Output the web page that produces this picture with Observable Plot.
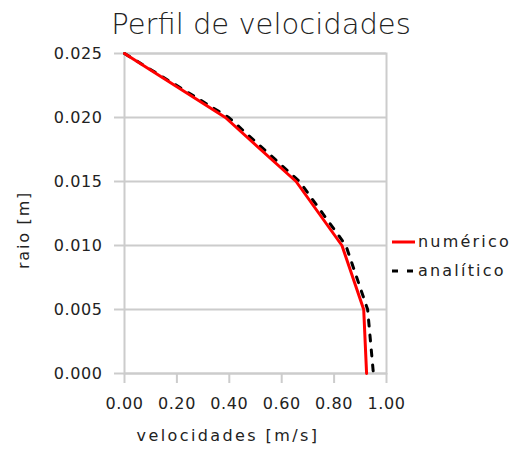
<!DOCTYPE html>
<html><head><meta charset="utf-8">
<script src="https://cdn.jsdelivr.net/npm/d3@7"></script>
<script src="https://cdn.jsdelivr.net/npm/@observablehq/plot@0.6"></script>
<style>
body{margin:0;background:#fff;font-family:"DejaVu Sans",sans-serif;color:#222;}
#wrap{position:relative;width:517px;height:454px;overflow:hidden;}
#chart{position:absolute;left:0;top:0;}
.lbl{position:absolute;white-space:nowrap;line-height:1;}
#title{left:0;width:522px;text-align:center;top:10px;font-size:29px;font-weight:300;}
#xlab{left:0;width:456px;text-align:center;top:428px;font-size:16px;letter-spacing:2.4px;}
#ylab{left:24px;top:230px;font-size:16px;letter-spacing:1.8px;transform:translate(-50%,-50%) rotate(-90deg);}
#legend{position:absolute;left:392px;top:227px;font-size:16px;letter-spacing:2.2px;}
.row{display:flex;align-items:center;height:29px;}
.row svg{margin-right:3px;}
</style>
</head><body>
<div id="wrap">
<div id="chart"></div>
<div id="title" class="lbl">Perfil de velocidades</div>
<div id="xlab" class="lbl">velocidades [m/s]</div>
<div id="ylab" class="lbl">raio [m]</div>
<div id="legend"></div>
</div>
<script>
const raio = [0.025, 0.020, 0.015, 0.010, 0.005, 0.000];
const numerico = [0, 0.385, 0.655, 0.83, 0.913, 0.924];
const analitico = [0, 0.398, 0.668, 0.845, 0.928, 0.95];
const xTicks = [0, 0.2, 0.4, 0.6, 0.8, 1.0];
const yTicks = [0, 0.005, 0.010, 0.015, 0.020, 0.025];
const series = ["numérico", "analítico"];
const colors = ["#ff0000", "#000000"];
const dashes = [null, "6,9"];

const num = raio.map((r, i) => ({r, v: numerico[i]}));
const ana = raio.map((r, i) => ({r, v: analitico[i]}));

const grid = "#cccccc";
const chart = Plot.plot({
  width: 517, height: 454,
  marginTop: 53, marginBottom: 81, marginLeft: 124, marginRight: 131,
  style: {fontFamily: "DejaVu Sans", fontSize: "16px", color: "#222", background: "#fff", letterSpacing: "0.6px"},
  x: {domain: [0, 1]},
  y: {domain: [0, 0.025]},
  marks: [
    Plot.gridY(yTicks, {stroke: grid, strokeOpacity: 1, strokeWidth: 2}),
    Plot.frame({stroke: grid, strokeWidth: 2}),
    Plot.axisX(xTicks, {tickSize: 10, text: null, stroke: grid, strokeWidth: 2, label: null}),
    Plot.axisX(xTicks, {tickSize: 0, tickPadding: 24, tickFormat: d3.format(".2f"), label: null, fill: "#222"}),
    Plot.axisY(yTicks, {tickSize: 10, text: null, stroke: grid, strokeWidth: 2, label: null}),
    Plot.axisY(yTicks, {tickSize: 0, tickPadding: 22, tickFormat: d3.format(".3f"), label: null, fill: "#222"}),
    Plot.line(ana, {x: "v", y: "r", stroke: colors[1], strokeWidth: 3, strokeDasharray: dashes[1]}),
    Plot.line(num, {x: "v", y: "r", stroke: colors[0], strokeWidth: 3})
  ]
});
document.getElementById("chart").append(chart);

const leg = document.getElementById("legend");
series.forEach((s, i) => {
  const row = document.createElement("div");
  row.className = "row";
  const dash = dashes[i] ? ` stroke-dasharray="${dashes[i]}"` : "";
  row.innerHTML = `<svg width="23" height="6"><line x1="0" y1="3" x2="23" y2="3" stroke="${colors[i]}" stroke-width="3"${dash}/></svg><span>${s}</span>`;
  leg.append(row);
});
</script>
</body></html>
